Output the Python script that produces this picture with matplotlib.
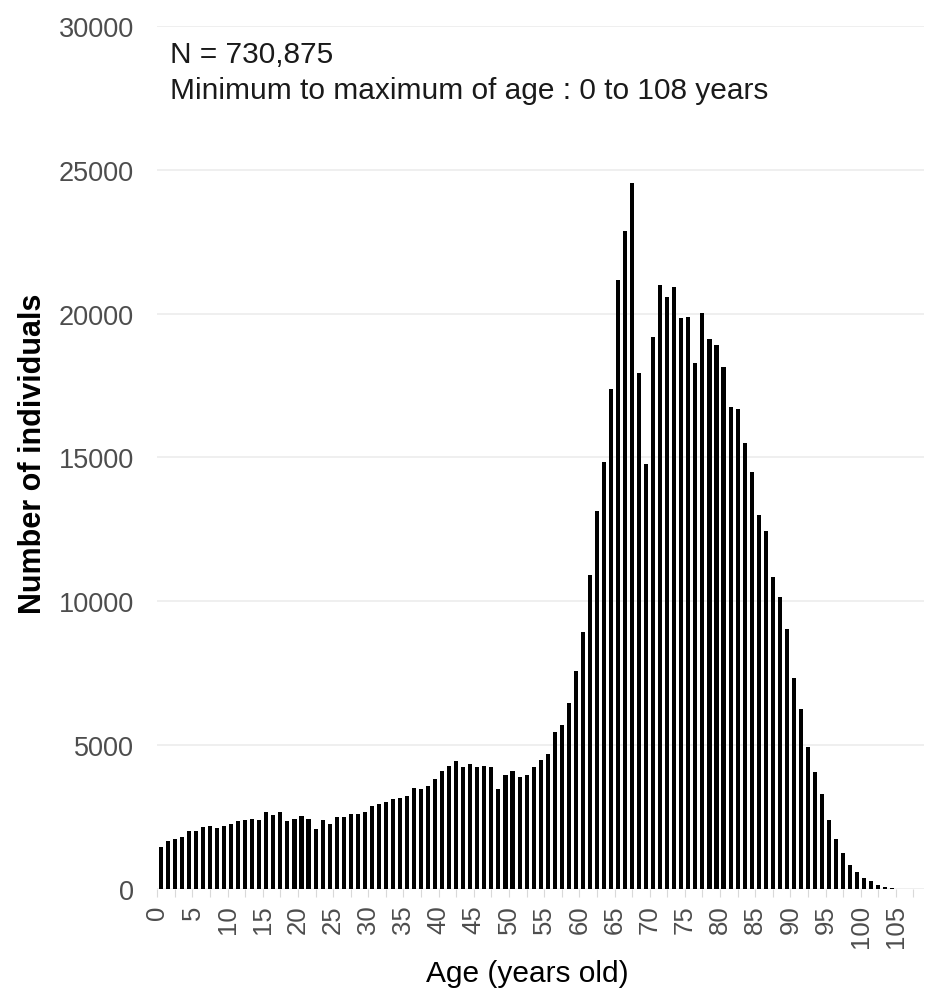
import numpy as np
import matplotlib
matplotlib.use("Agg")
import matplotlib.pyplot as plt

plt.rcParams['font.family'] = ['Liberation Sans', 'DejaVu Sans']

# number of individuals for each age (years)
ages = np.arange(0, 109)
counts = [
    1460, 1660, 1730, 1820, 2000, 2000, 2150, 2180, 2130, 2190,    # 0-9
    2250, 2350, 2390, 2450, 2400, 2670, 2580, 2690, 2360, 2440,    # 10-19
    2550, 2450, 2070, 2390, 2260, 2490, 2490, 2590, 2620, 2670,    # 20-29
    2900, 2950, 3010, 3140, 3160, 3230, 3520, 3470, 3590, 3810,    # 30-39
    4110, 4280, 4460, 4250, 4330, 4230, 4290, 4250, 3470, 3970,    # 40-49
    4090, 3880, 3970, 4250, 4480, 4700, 5450, 5690, 6450, 7590,    # 50-59
    8920, 10930, 13140, 14850, 17390, 21170, 22890, 24550, 17950, 14770,  # 60-69
    19180, 21010, 20580, 20940, 19860, 19880, 18270, 20040, 19120, 18910,  # 70-79
    18150, 16770, 16670, 15510, 14500, 13000, 12460, 10830, 10150, 9030,  # 80-89
    7330, 6250, 4920, 4060, 3290, 2400, 1750, 1250, 830, 580,       # 90-99
    380, 270, 130, 70, 35, 15, 8, 4, 2,                            # 100-108
]

n_total = "730,875"
age_min, age_max = 0, 108

xticks_major = np.arange(0, 110, 5)
xticks_minor = np.arange(2.5, 110, 5)
yticks = np.arange(0, 30001, 5000)

W, H = 927, 995
fig = plt.figure(figsize=(W / 100, H / 100), dpi=100)
ax = fig.add_axes([157.3 / W, (H - 890) / H, (924 - 157.3) / W, (890 - 27) / H])

# histogram bins are [age, age+1), drawn as thin bars
ax.bar(ages + 0.5, counts, width=0.58, color='black', linewidth=0, zorder=3)

ax.set_xlim(0, 109)
ax.set_ylim(0, 30000)

# minimal theme
for s in ax.spines.values():
    s.set_visible(False)
ax.set_yticks(yticks)
ax.grid(axis='y', color='#EBEBEB', linewidth=1.1, zorder=0)
ax.tick_params(axis='y', length=0, pad=17, labelsize=19.5, labelcolor='#4D4D4D')

ax.set_xticks(xticks_major)
ax.set_xticks(xticks_minor, minor=True)
ax.set_xticklabels([str(t) for t in xticks_major], rotation=90)
ax.tick_params(axis='x', which='both', length=6, width=0.8, color='#D9D9D9',
               pad=5, labelsize=18.5, labelcolor='#4D4D4D')

# axis titles
fig.text(33 / W, (H - 454) / H, "Number of individuals", rotation=90,
         ha='center', va='center', fontsize=22, fontweight='bold')
fig.text(527 / W, (H - 974) / H, "Age (years old)", ha='center', va='center',
         fontsize=21.5)

# annotation in the upper left
fig.text(170 / W, (H - 63) / H, "N = " + n_total, ha='left', va='baseline',
         fontsize=21.5, color='#1A1A1A')
fig.text(170 / W, (H - 99) / H,
         "Minimum to maximum of age : %d to %d years" % (age_min, age_max),
         ha='left', va='baseline', fontsize=21.5, color='#1A1A1A')

plt.savefig("out.png", dpi=100)
